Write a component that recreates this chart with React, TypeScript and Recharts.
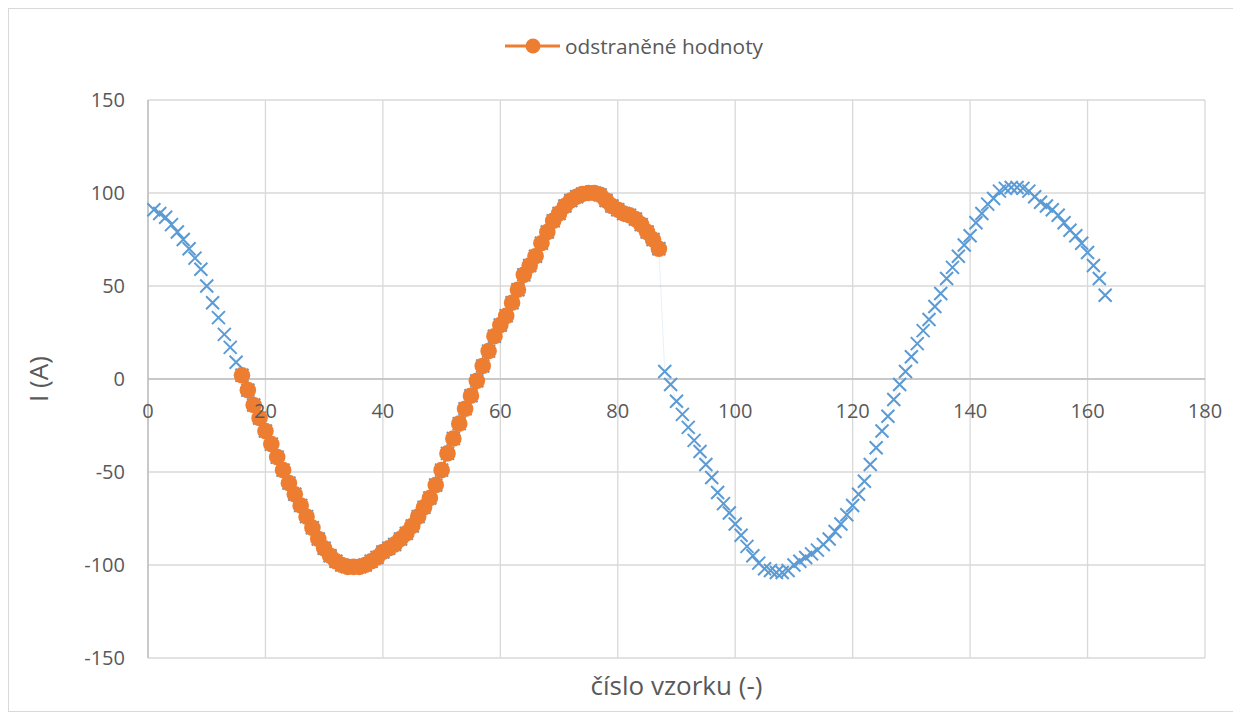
import React from 'react';
import { LineChart, Line, XAxis, YAxis, CartesianGrid, ReferenceLine } from 'recharts';

// sample numbers start at 1
const firstSample = 1;
// measured current, samples 1-15
const headValues = [91, 89, 87, 83, 79, 75, 70, 65, 59, 50, 41, 33, 24, 17, 9];
// removed samples 16-87 (drawn orange, also present under the blue series)
const removedStart = 16;
const removedValues = [
  2, -6, -14, -21, -28, -35, -42, -49, -56, -62, -68, -74, -80, -86, -91, -95, -98, -100, -101, -101,
  -101, -100, -98, -96, -93, -91, -89, -86, -83, -79, -74, -69, -64, -57, -49, -40, -32, -24, -16, -9,
  -1, 7, 15, 23, 29, 34, 41, 48, 56, 61, 66, 73, 79, 85, 89, 93, 96, 98, 99.5, 100,
  100, 99, 96, 93, 91, 89, 88, 86, 83, 79, 75, 70,
];
// samples 88-163
const tailValues = [
  4, -3, -12, -19, -26, -33, -39, -46, -53, -61, -67, -72, -78, -84, -90, -95, -99, -102, -103, -104,
  -104, -103, -100, -98, -96, -94, -92, -89, -86, -82, -78, -73, -68, -62, -55, -46, -37, -28, -20, -11,
  -3, 4, 12, 19, 26, 32, 39, 46, 54, 60, 66, 72, 77, 84, 89, 94, 97, 101, 102.5, 103,
  103, 102.5, 101, 98, 95, 93, 91, 88, 84, 80, 77, 73, 68, 61, 54, 45,
];

const xTicks = [0, 20, 40, 60, 80, 100, 120, 140, 160, 180];
const yTicks = [-150, -100, -50, 0, 50, 100, 150];

const measured = [...headValues, ...removedValues, ...tailValues];
const data = measured.map((v, i) => {
  const x = firstSample + i;
  const k = x - removedStart;
  return { x, measured: v, removed: k >= 0 && k < removedValues.length ? removedValues[k] : null };
});

const W = 1224;
const H = 702;
const M = { top: 91, right: 28, left: 0, bottom: 23 };
const Y_AXIS_W = 139;
const X_AXIS_H = 30;
const plotH = H - M.top - M.bottom - X_AXIS_H;
const zeroY = M.top + plotH / 2;

const BLUE = '#5b9bd5';
const ORANGE = '#ed7d31';
const TEXT = '#595959';
const FONT = "'Open Sans', sans-serif";

const CrossDot = (p: any) => {
  const { cx, cy, index } = p;
  if (cx == null || cy == null) return <g key={`c${index}`} />;
  const s = 6.5;
  return (
    <path
      key={`c${index}`}
      d={`M${cx - s},${cy - s}L${cx + s},${cy + s}M${cx - s},${cy + s}L${cx + s},${cy - s}`}
      stroke={BLUE}
      strokeWidth={2}
      fill="none"
    />
  );
};

const RoundDot = (p: any) => {
  const { cx, cy, index, value } = p;
  if (cx == null || cy == null || value == null) return <g key={`o${index}`} />;
  return <circle key={`o${index}`} cx={cx} cy={cy} r={8.3} fill={ORANGE} />;
};

// Excel puts the category labels under the zero line
const ZeroTick = (p: any) => (
  <text x={p.x} y={zeroY + 31} textAnchor="middle" dominantBaseline="central" fill={TEXT} fontSize={20} fontFamily={FONT}>
    {p.payload.value}
  </text>
);

const YTitle = (p: any) => {
  const vb = p.viewBox;
  const cx = 29;
  const cy = vb.y + vb.height / 2;
  return (
    <text x={cx} y={cy} transform={`rotate(-90 ${cx} ${cy})`} textAnchor="middle" dominantBaseline="central" fill={TEXT} fontSize={26} fontFamily={FONT}>
      I (A)
    </text>
  );
};

const XTitle = (p: any) => {
  const vb = p.viewBox;
  return (
    <text x={vb.x + vb.width / 2} y={vb.y + 27} textAnchor="middle" dominantBaseline="central" fill={TEXT} fontSize={26} fontFamily={FONT}>
      číslo vzorku (-)
    </text>
  );
};

export default function App() {
  return (
    <div style={{ position: 'relative', width: W, height: H, border: '1px solid #d9d9d9', background: '#fff', fontFamily: FONT }}>
      <LineChart width={W} height={H} data={data} margin={M}>
        <CartesianGrid stroke="#d9d9d9" strokeWidth={1.3} />
        <XAxis
          type="number"
          dataKey="x"
          domain={[0, 180]}
          ticks={xTicks}
          axisLine={false}
          tickLine={false}
          height={X_AXIS_H}
          tick={<ZeroTick />}
          interval={0}
          label={<XTitle />}
        />
        <YAxis
          type="number"
          domain={[-150, 150]}
          ticks={yTicks}
          width={Y_AXIS_W}
          axisLine={{ stroke: '#bfbfbf', strokeWidth: 1.5 }}
          tickLine={false}
          tickSize={0}
          tickMargin={23}
          tick={{ fill: TEXT, fontSize: 20, fontFamily: FONT }}
          interval={0}
          label={<YTitle />}
        />
        <ReferenceLine y={0} stroke="#bfbfbf" strokeWidth={1.5} />
        <Line
          type="linear"
          dataKey="measured"
          stroke={BLUE}
          strokeOpacity={0.15}
          strokeWidth={1}
          dot={CrossDot}
          activeDot={false}
          legendType="none"
          isAnimationActive={false}
        />
        <Line
          type="linear"
          dataKey="removed"
          stroke={ORANGE}
          strokeWidth={3}
          dot={RoundDot}
          activeDot={false}
          isAnimationActive={false}
        />
      </LineChart>
      <div style={{ position: 'absolute', left: 496, top: 22, height: 30, display: 'flex', alignItems: 'center' }}>
        <svg width={56} height={20}>
          <line x1={0} y1={10} x2={55} y2={10} stroke={ORANGE} strokeWidth={3} />
          <circle cx={28} cy={10} r={7.5} fill={ORANGE} />
        </svg>
        <span style={{ marginLeft: 4, fontSize: 20.8, color: TEXT, lineHeight: '30px' }}>odstraněné hodnoty</span>
      </div>
    </div>
  );
}
